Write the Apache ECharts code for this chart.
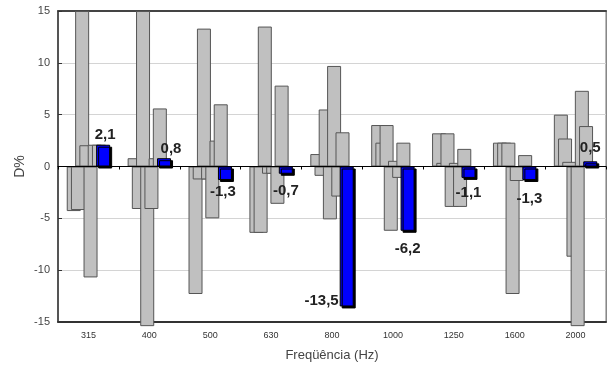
<!DOCTYPE html>
<html>
<head>
<meta charset="utf-8">
<script src="https://cdn.jsdelivr.net/npm/echarts@6/dist/echarts.min.js"></script>
<style>html,body{margin:0;padding:0;background:#fff}#c{width:608px;height:368px}</style>
</head>
<body>
<div id="c"></div>
<script>
// Categories (Hz)
var categories = ['315', '400', '500', '630', '800', '1000', '1250', '1600', '2000'];
// Grey series (individual results), values in %
var serie1 = [-4.3, 0.8, -12.3, -6.4, 1.2, 4.0, 3.2, 2.3, 5.0];
var serie2 = [-4.2, -4.1, -1.25, -6.4, -0.9, 2.3, 0.35, 2.3, 2.7];
var serie3 = [15, 15, 13.3, 13.5, 5.5, 4.0, 3.2, 2.3, 0.45];
var serie4 = [2.05, -15.4, -1.25, -0.7, -5.1, -6.2, -3.9, -12.3, -8.7];
var serie5 = [-10.7, -4.1, -5.0, -0.7, 9.7, 0.55, 0.35, -1.4, -15.4];
var serie6 = [2.1, 0.8, 2.5, -3.6, -2.9, -1.1, -3.9, null, 7.3];
var serie7 = [2.1, 5.6, 6.0, 7.8, 3.3, 2.3, 1.7, 1.1, 3.9];
// Blue series (labelled)
var blueSerie = [2.1, 0.8, -1.3, -0.7, -13.5, -6.2, -1.1, -1.3, 0.5];
// Y ticks
var yMin = -15, yMax = 15, yStep = 5;

// label fine placement (px nudges, styling only)
var labelNudge = [[2, 0], [7, 0], [-2, -3], [0, 3], [0, 0], [0, 4], [0, 0], [0, 4], [0, -4]];

var FONT = 'Liberation Sans, Arial, sans-serif';
var greys = [serie1, serie2, serie3, serie4, serie5, serie6, serie7];

var series = greys.map(function (arr) {
  return {
    type: 'bar',
    data: arr,
    barWidth: 14,
    barGap: '-70%',
    clip: false,
    itemStyle: { color: '#c0c0c0', borderColor: '#555', borderWidth: 1 },
    silent: true
  };
});

series.push({
  type: 'bar',
  barWidth: 14,
  barGap: '-70%',
  clip: false,
  silent: true,
  itemStyle: {
    color: '#0000ff', borderColor: '#000', borderWidth: 1,
    shadowColor: '#000', shadowOffsetX: 2, shadowOffsetY: 2, shadowBlur: 0
  },
  label: {
    show: true,
    fontFamily: FONT,
    fontSize: 15,
    fontWeight: 'bold',
    color: '#222',
    formatter: function (p) { return String(p.value).replace('.', ','); }
  },
  data: blueSerie.map(function (v, i) {
    var lab;
    if (v >= 0) lab = { position: 'top', distance: 2, offset: labelNudge[i] };
    else if (v < -10) lab = { position: ['0%', '100%'], align: 'right', verticalAlign: 'bottom', offset: [-1, 2] };
    else lab = { position: 'bottom', distance: 7, offset: labelNudge[i] };
    return { value: v, label: lab };
  })
});

var chart = echarts.init(document.getElementById('c'), null, { renderer: 'canvas' });
chart.setOption({
  animation: false,
  backgroundColor: '#fff',
  textStyle: { fontFamily: FONT },
  grid: { left: 58, right: 2, top: 11, bottom: 46, show: true, borderColor: '#777', borderWidth: 1, backgroundColor: 'transparent' },
  xAxis: [
    {
      type: 'category', data: categories, position: 'bottom',
      axisLine: { onZero: false, lineStyle: { color: '#333', width: 2 } },
      axisTick: { show: false },
      axisLabel: { fontSize: 9, color: '#333', margin: 9, fontFamily: FONT },
      splitLine: { show: false },
      name: 'Freqüência (Hz)', nameLocation: 'middle', nameGap: 27, nameMoveOverlap: false,
      nameTextStyle: { fontSize: 13, color: '#444', fontFamily: FONT }
    },
    {
      type: 'category', data: categories, position: 'top', z: 10,
      axisLine: { onZero: true, lineStyle: { color: '#000', width: 1 } },
      axisTick: { show: true, inside: true, length: 3, lineStyle: { color: '#000' } },
      axisLabel: { show: false }, splitLine: { show: false }
    },
    {
      type: 'category', data: categories, position: 'top',
      axisLine: { onZero: false, lineStyle: { color: '#444', width: 2 } },
      axisTick: { show: false }, axisLabel: { show: false }, splitLine: { show: false }
    }
  ],
  yAxis: [
    {
      type: 'value', min: yMin, max: yMax, interval: yStep, position: 'left',
      axisLine: { show: true, lineStyle: { color: '#333', width: 1.5 } },
      axisTick: { show: true, inside: true, length: 4, lineStyle: { color: '#333' } },
      axisLabel: { fontSize: 11, color: '#444', margin: 8, fontFamily: FONT },
      splitLine: { show: true, lineStyle: { color: '#d4d4d4', width: 1 } },
      name: 'D%', nameLocation: 'middle', nameGap: 31, nameRotate: 90, nameMoveOverlap: false,
      nameTextStyle: { fontSize: 14, color: '#444', fontFamily: FONT }
    },
    {
      type: 'value', min: yMin, max: yMax, interval: yStep, position: 'right',
      axisLine: { show: true, lineStyle: { color: '#888', width: 1 } },
      axisTick: { show: false }, axisLabel: { show: false }, splitLine: { show: false }
    }
  ],
  series: series
});
</script>
</body>
</html>
